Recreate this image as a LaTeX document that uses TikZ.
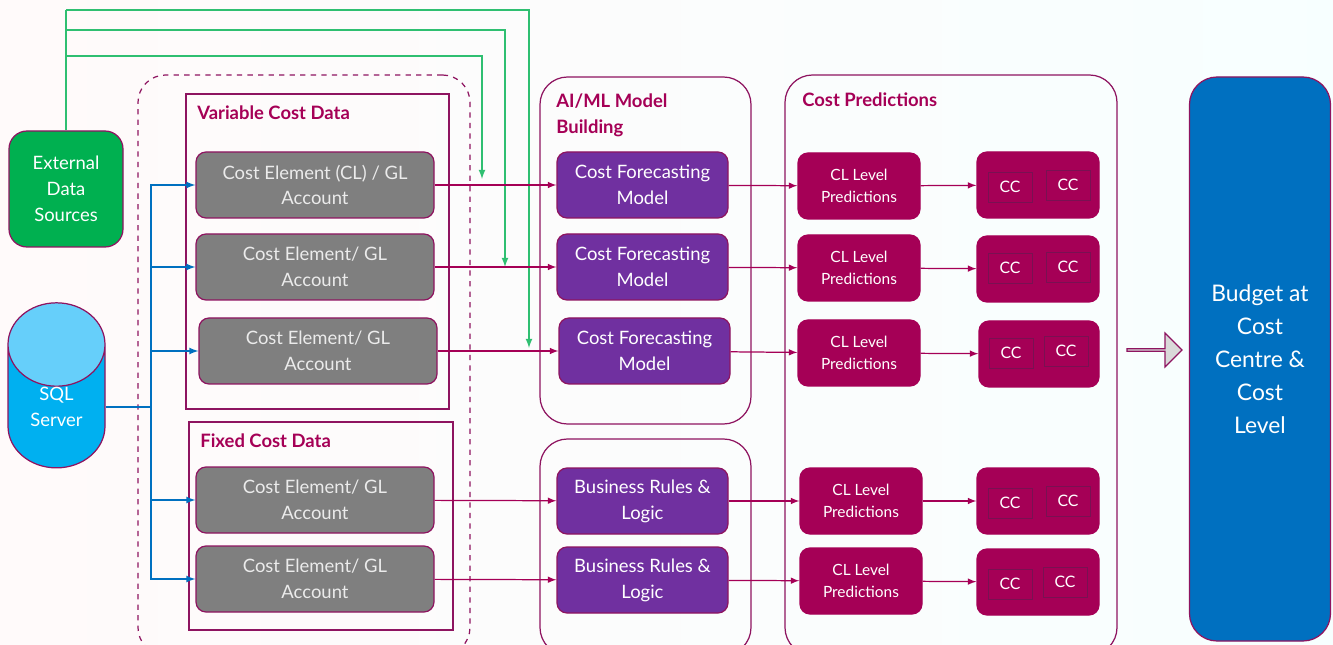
\documentclass[tikz,border=0pt]{standalone}
\usepackage{fontspec}
\setmainfont{Lato}
\usetikzlibrary{shapes.geometric,shapes.arrows}
\definecolor{plum}{HTML}{A50056}
\definecolor{plumline}{HTML}{8E1460}
\definecolor{greyfill}{HTML}{7F7F7F}
\definecolor{violetfill}{HTML}{7030A0}
\definecolor{greenfill}{HTML}{00B050}
\definecolor{greenline}{HTML}{2FBF71}
\definecolor{skyfill}{HTML}{00B0F0}
\definecolor{skytop}{HTML}{66CFFA}
\definecolor{budgetfill}{HTML}{0070C0}
\definecolor{arrowfill}{HTML}{D9D9D9}
\tikzset{
  size/.style 2 args={minimum width=#1*0.02cm,minimum height=#2*0.02cm},
  block/.style={rectangle,rounded corners=0.2cm,draw=plumline,line width=0.7pt,text=white,
    inner sep=0pt,align=center,font=\fontsize{10.5}{14.7}\selectfont},
  costbox/.style={block,fill=greyfill,text=white!92!black,size={238}{66}},
  modelbox/.style={block,fill=violetfill,size={171}{66}},
  clbox/.style={block,fill=plum,draw=plum,size={122}{66},font=\fontsize{8.8}{12.6}\selectfont},
  ccbox/.style={block,fill=plum,draw=plum,size={122}{66}},
  ccitem/.style={rectangle,draw=plumline!85!black,line width=0.5pt,fill=plum,text=white,inner sep=0pt,
    size={44}{30},font=\fontsize{9}{11}\selectfont},
  panel/.style={rectangle,rounded corners=0.55cm,draw=plumline,line width=0.7pt},
  framebox/.style={rectangle,draw=plumline,line width=0.7pt},
  heading/.style={text=plum,inner sep=0pt,anchor=west,align=left,font=\fontsize{10.5}{14.7}\selectfont\bfseries},
  feed/.style={->,draw=plum,line width=0.7pt},
  bluefeed/.style={->,draw=budgetfill,line width=0.8pt},
  greenfeed/.style={->,draw=greenline,line width=0.8pt}
}
\begin{document}
\begin{tikzpicture}[x=0.02cm,y=-0.02cm]
    \tikzset{>=latex}
    \path[use as bounding box,left color=red!2!white,right color=cyan!3!white] (0,0) rectangle (1333,645);
    \node (outer) at (304,365) [panel,dashed,size={332}{580}] {};
    \node (varframe) at (317.5,251.5) [framebox,size={263}{315}] {};
    \node (fixframe) at (321,526) [framebox,size={264}{208}] {};
    \node (aipanel) at (645.5,250.5) [panel,size={211}{347}] {};
    \node (rulepanel) at (645.5,547) [panel,size={211}{216}] {};
    \node (predpanel) at (951,365) [panel,size={332}{580}] {};

    \node (vartitle) at (197,113) [heading] {Variable Cost Data};
    \node (fixtitle) at (200,441) [heading] {Fixed Cost Data};
    \node (aititle) at (556,115) [heading] {AI/ML Model\\Building};
    \node (predtitle) at (802,100) [heading] {Cost Predictions};

    \node (ext) at (66,189) [block,fill=greenfill,rounded corners=0.36cm,size={114}{116}] {External\\Data\\Sources};
    \node (sql) at (56.5,406.5) [cylinder,shape border rotate=90,aspect=1.6,draw=plumline,line width=0.7pt,
      cylinder uses custom fill,cylinder body fill=skyfill,cylinder end fill=skytop,text=white,inner sep=0pt,align=center,
      minimum width=97*0.02cm,minimum height=159*0.02cm,font=\fontsize{10.5}{14.7}\selectfont] {SQL\\Server};

    \node (cost1) at (315,185) [costbox] {Cost Element (CL) / GL\\Account};
    \node (cost2) at (315,267) [costbox] {Cost Element/ GL\\Account};
    \node (cost3) at (318,351) [costbox] {Cost Element/ GL\\Account};
    \node (cost4) at (315,500) [costbox] {Cost Element/ GL\\Account};
    \node (cost5) at (315,579) [costbox] {Cost Element/ GL\\Account};

    \node (model1) at (642.5,185) [modelbox] {Cost Forecasting\\Model};
    \node (model2) at (642.5,267) [modelbox] {Cost Forecasting\\Model};
    \node (model3) at (644.5,351) [modelbox] {Cost Forecasting\\Model};
    \node (rule1) at (642.5,501) [modelbox] {Business Rules \&\\Logic};
    \node (rule2) at (642.5,580) [modelbox] {Business Rules \&\\Logic};

    \node (cl1) at (859,186) [clbox] {CL Level\\Predictions};
    \node (cl2) at (859,268) [clbox] {CL Level\\Predictions};
    \node (cl3) at (859,353) [clbox] {CL Level\\Predictions};
    \node (cl4) at (861,501) [clbox] {CL Level\\Predictions};
    \node (cl5) at (861,581) [clbox] {CL Level\\Predictions};

    \node (cc1) at (1038,185) [ccbox] {};
    \node (cc2) at (1038,269) [ccbox] {};
    \node (cc3) at (1039,354) [ccbox,size={120}{66}] {};
    \node (cc4) at (1038,501) [ccbox] {};
    \node (cc5) at (1038,582) [ccbox] {};

    \node (cc1a) at (1010,187) [ccitem] {CC};
    \node (cc1b) at (1068,185) [ccitem] {CC};
    \node (cc2a) at (1010,268) [ccitem] {CC};
    \node (cc2b) at (1068,267) [ccitem] {CC};
    \node (cc3a) at (1011,353) [ccitem] {CC};
    \node (cc3b) at (1066,351) [ccitem] {CC};
    \node (cc4a) at (1010,503) [ccitem] {CC};
    \node (cc4b) at (1068,501) [ccitem] {CC};
    \node (cc5a) at (1010,584) [ccitem] {CC};
    \node (cc5b) at (1065,582) [ccitem] {CC};

    \node (budget) at (1260,359) [block,fill=budgetfill,rounded corners=0.55cm,size={141}{564},
      font=\fontsize{13}{18.7}\selectfont] {Budget at\\Cost\\Centre \&\\Cost\\Level};
    \node (handover) at (1154,350) [single arrow,draw=plumline,fill=arrowfill,line width=0.7pt,inner sep=0pt,
      minimum width=34*0.02cm,minimum height=55*0.02cm,single arrow head extend=0.17cm,single arrow tip angle=90] {};

    \coordinate (hub) at (151,407);
    \coordinate (ext3) at (66,56);
    \coordinate (ext2) at (66,30);
    \coordinate (ext1) at (66,10);
    \coordinate (turn3) at (482,56);
    \coordinate (turn2) at (505,30);
    \coordinate (turn1) at (529,10);
    \coordinate (drop3) at (482,179);
    \coordinate (drop2) at (505,267);
    \coordinate (drop1) at (529,348);

    \draw [draw=budgetfill,line width=1.6pt] (sql.east |- hub) -- (hub);
    \draw [bluefeed] (hub) |- (cost1.west);
    \draw [bluefeed] (hub) |- (cost2.west);
    \draw [bluefeed] (hub) |- (cost3.west);
    \draw [bluefeed] (hub) |- (cost4.west);
    \draw [bluefeed] (hub) |- (cost5.west);

    \draw [draw=greenline,line width=0.8pt] (ext.north) -- (ext1);
    \draw [greenfeed] (ext3) -- (turn3) -- (drop3);
    \draw [greenfeed] (ext2) -- (turn2) -- (drop2);
    \draw [greenfeed] (ext1) -- (turn1) -- (drop1);

    \draw [feed] (cost1) -- (model1);
    \draw [feed] (cost2) -- (model2);
    \draw [feed] (cost3) -- (model3);
    \draw [feed] (cost4) -- (rule1);
    \draw [feed] (cost5) -- (rule2);
    \draw [feed] (model1) -- (cl1);
    \draw [feed] (model2) -- (cl2);
    \draw [feed] (model3) -- (cl3);
    \draw [feed] (rule1) -- (cl4);
    \draw [feed] (rule2) -- (cl5);
    \draw [feed] (cl1) -- (cc1);
    \draw [feed] (cl2) -- (cc2);
    \draw [feed] (cl3) -- (cc3);
    \draw [feed] (cl4) -- (cc4);
    \draw [feed] (cl5) -- (cc5);
    \end{tikzpicture}
\end{document}
